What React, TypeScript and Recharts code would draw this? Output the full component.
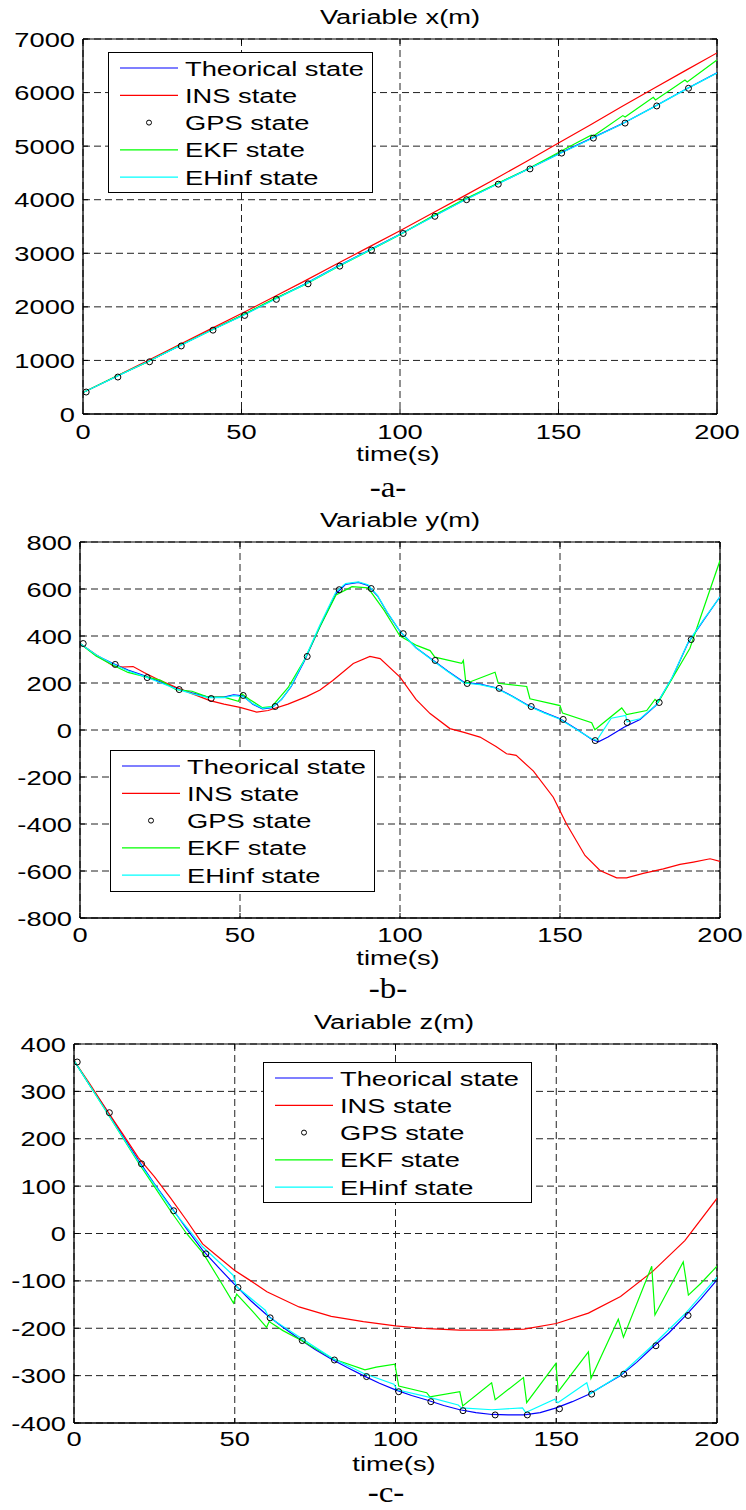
import React from "react";
import { LineChart, Line, XAxis, YAxis, CartesianGrid, ReferenceLine, Legend } from "recharts";

type P = [number, number];

// ---------- shared labels / ticks ----------
const timeTicks = [0, 50, 100, 150, 200];
const xTicks = [0, 1000, 2000, 3000, 4000, 5000, 6000, 7000];
const yTicks = [-800, -600, -400, -200, 0, 200, 400, 600, 800];
const zTicks = [-400, -300, -200, -100, 0, 100, 200, 300, 400];
const seriesNames = ["Theorical state", "INS state", "GPS state", "EKF state", "EHinf state"];
const seriesColors = ["#0000ff", "#ff0000", "#000000", "#00ff00", "#00ffff"];
const titles = ["Variable x(m)", "Variable y(m)", "Variable z(m)"];
const xLabel = "time(s)";
const captions = ["-a-", "-b-", "-c-"];

// ---------- chart a : x(m) ----------
const xTheo: P[] = [[0,400],[10,685],[20,968],[30,1262],[40,1555],[50,1832],[60,2132],[70,2425],[80,2748],[90,3050],[100,3355],[110,3672],[120,3985],[130,4275],[140,4562],[150,4855],[160,5135],[170,5415],[180,5730],[190,6058],[200,6368]];
const xIns: P[] = [[0,400],[10,690],[20,985],[30,1282],[40,1580],[50,1875],[60,2180],[70,2485],[80,2800],[90,3110],[100,3420],[110,3742],[120,4062],[130,4388],[140,4718],[150,5058],[160,5395],[170,5740],[180,6075],[190,6410],[200,6740]];
const xGps: P[] = [[1,410],[11,690],[21,975],[31,1270],[41,1565],[51,1840],[61,2140],[71,2430],[81,2760],[91,3060],[101,3370],[111,3690],[121,4000],[131,4290],[141,4575],[151,4870],[161,5150],[171,5430],[181,5750],[191,6080]];
const xEkf: P[] = [[0,400],[10,690],[20,962],[30,1265],[40,1548],[50,1838],[60,2140],[70,2415],[80,2735],[90,3040],[100,3345],[110,3685],[120,4000],[130,4285],[140,4565],[150,4880],[155,5040],[160.3,5205],[161,5190],[170.3,5570],[171,5545],[179.9,5912],[180.6,5862],[189.9,6235],[190.6,6198],[200,6609]];
const xEhinf: P[] = [[0,400],[10,683],[20,966],[30,1258],[40,1550],[50,1825],[60,2125],[70,2420],[80,2742],[90,3045],[100,3350],[110,3668],[120,3980],[130,4270],[140,4558],[150,4850],[160,5130],[170,5412],[180,5728],[190,6055],[200,6365]];

// ---------- chart b : y(m) ----------
const yTheo: P[] = [[0,368],[5,318],[10,285],[15,255],[20,232],[25,205],[30,178],[35,158],[40,140],[45,140],[48,150],[51,145],[54,110],[57,90],[60,95],[63,130],[66,185],[70,290],[75,440],[80,580],[83,620],[87,628],[90,615],[93,570],[96,500],[100,420],[105,350],[110,300],[115,250],[120,203],[125,195],[130,180],[135,145],[140,105],[145,75],[150,48],[155,5],[160,-40],[162,-50],[165,-30],[170,12],[175,45],[180,105],[185,220],[190,370],[195,470],[200,567]];
const yIns: P[] = [[0,368],[5,320],[10.3,274],[13,268],[16.6,270],[20,245],[25,211],[30,182],[35,155],[40.6,125],[45,110],[50,96],[55.2,76],[58.8,83],[65,110],[70.8,142],[75,170],[79,211],[85.4,283],[90.6,313],[93.8,304],[100,225],[105,130],[109.4,70],[115.6,6],[120,-10],[125,-30],[130,-70],[133.3,-101],[136.3,-108],[141.7,-175],[147.9,-286],[152,-399],[157.8,-534],[162.5,-598],[167.7,-629],[170.8,-629],[176,-610],[182.3,-591],[187.5,-572],[191.7,-562],[196.9,-548],[200,-559]];
const yGps: P[] = [[1,368],[11,279],[21,223],[31,172],[41,134],[51,147],[61,100],[71,313],[81,597],[91,602],[101,410],[111,296],[121,198],[131,177],[141,100],[151,45],[161,-45],[171,32],[181,117],[191,385]];
const yEkf: P[] = [[0,368],[5,315],[10,278],[15,245],[20,228],[25,212],[30,172],[35,165],[40,140],[45,140],[49.5,122],[50.5,155],[53,130],[57,95],[60,100],[65,180],[70,295],[75,440],[80,575],[85,610],[90,605],[95,510],[100,400],[105.2,360],[109.4,338],[110.9,310],[119.3,284],[119.8,296],[120.6,198],[129.7,246],[130.7,199],[139.6,185],[140.6,133],[150,104],[150.8,72],[159.9,31],[160.9,1],[169.3,94],[170.8,66],[177.1,83],[179.7,130],[180.7,118],[190.6,348],[200,721]];
const yEhinf: P[] = [[0,368],[5,320],[10,283],[15,252],[20,228],[25,202],[30,175],[35,155],[40,138],[45,138],[48,146],[51,142],[54,112],[57,92],[60,97],[63,130],[66,187],[70,295],[75,448],[80,588],[83,623],[87,630],[90,618],[93,572],[96,502],[100,420],[105,350],[110,298],[115,248],[120,200],[125,193],[130,178],[135,143],[140,103],[145,73],[150,46],[155,3],[160,-38],[161.5,-44],[166,50],[170.5,62],[171,35],[175,48],[180,106],[185,222],[190,372],[195,472],[200,567]];

// ---------- chart c : z(m) ----------
const zTheo: P[] = [[0,365],[5,312],[10,262],[15,208],[20,155],[25,105],[30,58],[35,10],[40,-35],[45,-72],[50,-108],[55,-142],[60,-172],[65,-198],[70,-222],[75,-245],[80,-265],[85,-283],[90,-300],[95,-316],[100,-330],[105,-342],[110,-352],[115,-363],[120,-372],[125,-378],[130,-382],[135,-383],[140,-383],[145,-378],[150,-368],[155,-355],[160,-340],[165,-320],[170,-300],[175,-272],[180,-240],[185,-210],[190,-175],[195,-138],[200,-98]];
const zIns: P[] = [[0,365],[5,315],[10,262],[15,212],[20,160],[25,120],[30,75],[35,28],[40,-22],[45,-50],[50,-78],[55,-100],[60,-123],[70,-155],[80,-175],[90,-186],[100,-195],[110,-201],[120,-204],[130,-204],[140,-202],[150,-190],[160,-168],[170,-133],[180,-80],[190,-15],[200,74]];
const zGps: P[] = [[1,362],[11,255],[21,147],[31,48],[41,-43],[51,-114],[61,-178],[71,-226],[81,-267],[91,-302],[101,-334],[111,-355],[121,-374],[131,-383],[141,-383],[151,-370],[161,-339],[171,-297],[181,-237],[191,-173]];
const zEkf: P[] = [[0,365],[10,258],[20,150],[30,48],[35,0],[40.2,-42],[45,-95],[49.6,-147],[50.6,-128],[55,-160],[59.9,-198],[60.7,-186],[65,-205],[70.8,-226],[80.7,-265],[90.5,-288],[94,-282],[99.8,-276],[101,-322],[109.7,-336],[110.7,-345],[120,-334],[120.9,-364],[129.9,-315],[131,-351],[139.8,-304],[140.8,-357],[149.9,-274],[150.6,-334],[160,-250],[160.8,-306],[169.3,-181],[170.9,-219],[179.7,-69],[180.7,-172],[189.5,-60],[191.1,-130],[195,-105],[200,-69]];
const zEhinf: P[] = [[0,365],[10,258],[20,152],[30,55],[40,-28],[49.5,-88],[50.5,-112],[59.5,-162],[60.5,-176],[70,-218],[80,-262],[90,-295],[99.5,-318],[100.5,-330],[110,-345],[119.5,-362],[120.5,-368],[130,-372],[139.5,-368],[140.5,-378],[149.5,-350],[150.5,-357],[159.5,-315],[160.5,-339],[170,-298],[180,-236],[190,-170],[200,-92]];

// ---------- rendering ----------
const FONT = "'Liberation Sans', Arial, Helvetica, sans-serif";
const SERIF = "'Liberation Serif', 'Times New Roman', serif";
const SX = 1.3;
const FS = 21;
const Y_MARGIN = 8;
const W = 746;

const rows = (pts: P[]) => pts.map(([t, v]) => ({ t, v }));

type Plot = { left: number; top: number; right: number; bottom: number };
type LegendPos = { left: number; top: number; width: number; height: number };

function LegendBox({ pos }: { pos: LegendPos }) {
  return (
    <svg width={pos.width} height={pos.height} style={{ display: "block" }}>
      <rect x={0.5} y={0.5} width={pos.width - 1} height={pos.height - 1} fill="#fff" stroke="#000" strokeWidth={1} />
      {seriesNames.map((name, i) => {
        const cy = 16 + i * 27.3;
        return (
          <g key={name}>
            {i === 2 ? (
              <circle cx={41} cy={cy} r={2.5} fill="none" stroke="#000" strokeWidth={1} />
            ) : (
              <line x1={12} x2={70} y1={cy} y2={cy} stroke={seriesColors[i]} strokeWidth={1.2} />
            )}
            <text
              transform={`translate(77,${cy}) scale(${SX},1)`}
              dy="0.36em"
              fontSize={FS}
              fontFamily={FONT}
              fill="#000"
            >
              {name}
            </text>
          </g>
        );
      })}
    </svg>
  );
}

function Panel(props: {
  top: number;
  height: number;
  plot: Plot;
  domain: [number, number];
  yTicksArr: number[];
  data: P[][];
  legend: LegendPos;
  xMargin: number;
}) {
  const { top, height, plot, domain, yTicksArr, data, legend, xMargin } = props;
  const plotH = plot.bottom - plot.top;
  const plotW = plot.right - plot.left;

  const XTick = (p: any) => {
    const { x, y, payload } = p;
    const axisY = y - xMargin;
    return (
      <g>
        <line x1={x} x2={x} y1={axisY} y2={axisY - 5} stroke="#000" />
        <line x1={x} x2={x} y1={axisY - plotH} y2={axisY - plotH + 5} stroke="#000" />
        <text transform={`translate(${x},${y}) scale(${SX},1)`} textAnchor="middle" dy="0.72em" fontSize={FS} fontFamily={FONT} fill="#000">
          {payload.value}
        </text>
      </g>
    );
  };
  const YTick = (p: any) => {
    const { x, y, payload } = p;
    const axisX = x + Y_MARGIN;
    return (
      <g>
        <line x1={axisX} x2={axisX + 5} y1={y} y2={y} stroke="#000" />
        <line x1={axisX + plotW} x2={axisX + plotW - 5} y1={y} y2={y} stroke="#000" />
        <text transform={`translate(${x},${y}) scale(${SX},1)`} textAnchor="end" dy="0.36em" fontSize={FS} fontFamily={FONT} fill="#000">
          {payload.value}
        </text>
      </g>
    );
  };

  return (
    <div style={{ position: "absolute", left: 0, top, width: W, height }}>
      <LineChart
        width={W}
        height={height}
        margin={{ top: plot.top, right: W - plot.right, left: 0, bottom: 0 }}
      >
        <CartesianGrid stroke="#222" strokeDasharray="7 4" strokeWidth={1} />
        <XAxis
          dataKey="t"
          type="number"
          domain={[0, 200]}
          ticks={timeTicks}
          interval={0}
          allowDataOverflow
          height={height - plot.bottom}
          tickSize={0}
          tickMargin={xMargin}
          tickLine={false}
          axisLine={{ stroke: "#000", strokeWidth: 1.3 }}
          tick={XTick}
        />
        <YAxis
          type="number"
          domain={domain}
          ticks={yTicksArr}
          interval={0}
          allowDataOverflow
          width={plot.left}
          tickSize={0}
          tickMargin={Y_MARGIN}
          tickLine={false}
          axisLine={{ stroke: "#000", strokeWidth: 1.3 }}
          tick={YTick}
        />
        <ReferenceLine x={200} stroke="#000" strokeWidth={1.2} />
        <ReferenceLine y={domain[1]} stroke="#000" strokeWidth={1.2} />
        {data.map((pts, i) =>
          i === 2 ? (
            <Line
              key={i}
              name={seriesNames[i]}
              data={rows(pts)}
              dataKey="v"
              type="linear"
              stroke="none"
              dot={{ r: 3, stroke: "#000", strokeWidth: 1, fill: "none" }}
              activeDot={false}
              isAnimationActive={false}
            />
          ) : (
            <Line
              key={i}
              name={seriesNames[i]}
              data={rows(pts)}
              dataKey="v"
              type="linear"
              stroke={seriesColors[i]}
              strokeWidth={1.2}
              dot={false}
              activeDot={false}
              isAnimationActive={false}
            />
          )
        )}
        <Legend
          layout="vertical"
          align="center"
          verticalAlign="middle"
          wrapperStyle={{ left: legend.left, top: legend.top, width: legend.width, height: legend.height }}
          content={() => <LegendBox pos={legend} />}
        />
      </LineChart>
    </div>
  );
}

function Overlay() {
  const t = (x: number, y: number, s: string, font: string, size: number, sx: number) => (
    <text
      key={s + y}
      transform={`translate(${x},${y}) scale(${sx},1)`}
      textAnchor="middle"
      fontSize={size}
      fontFamily={font}
      fill="#000"
    >
      {s}
    </text>
  );
  return (
    <svg width={W} height={1510} style={{ position: "absolute", left: 0, top: 0, pointerEvents: "none" }}>
      {t(400, 24, titles[0], FONT, FS, SX)}
      {t(398, 461, xLabel, FONT, FS, SX)}
      {t(388, 497, captions[0], SERIF, 30, 1.1)}
      {t(400, 527, titles[1], FONT, FS, SX)}
      {t(398, 965, xLabel, FONT, FS, SX)}
      {t(388, 998, captions[1], SERIF, 30, 1.1)}
      {t(394, 1029, titles[2], FONT, FS, SX)}
      {t(394, 1471, xLabel, FONT, FS, SX)}
      {t(386, 1502, captions[2], SERIF, 30, 1.1)}
    </svg>
  );
}

export default function App() {
  return (
    <div style={{ position: "absolute", left: 0, top: 0, width: W, height: 1510, background: "#fff" }}>
      <Panel
        top={0}
        height={500}
        plot={{ left: 83, top: 39, right: 717, bottom: 414 }}
        domain={[0, 7000]}
        yTicksArr={xTicks}
        data={[xTheo, xIns, xGps, xEkf, xEhinf]}
        legend={{ left: 108, top: 52, width: 265, height: 141 }}
        xMargin={10}
      />
      <Panel
        top={500}
        height={500}
        plot={{ left: 80, top: 42, right: 720, bottom: 418 }}
        domain={[-800, 800]}
        yTicksArr={yTicks}
        data={[yTheo, yIns, yGps, yEkf, yEhinf]}
        legend={{ left: 110, top: 250, width: 265, height: 142 }}
        xMargin={9}
      />
      <Panel
        top={1000}
        height={510}
        plot={{ left: 74, top: 44, right: 717, bottom: 423 }}
        domain={[-400, 400]}
        yTicksArr={zTicks}
        data={[zTheo, zIns, zGps, zEkf, zEhinf]}
        legend={{ left: 263, top: 62, width: 269, height: 141 }}
        xMargin={8}
      />
      <Overlay />
    </div>
  );
}
